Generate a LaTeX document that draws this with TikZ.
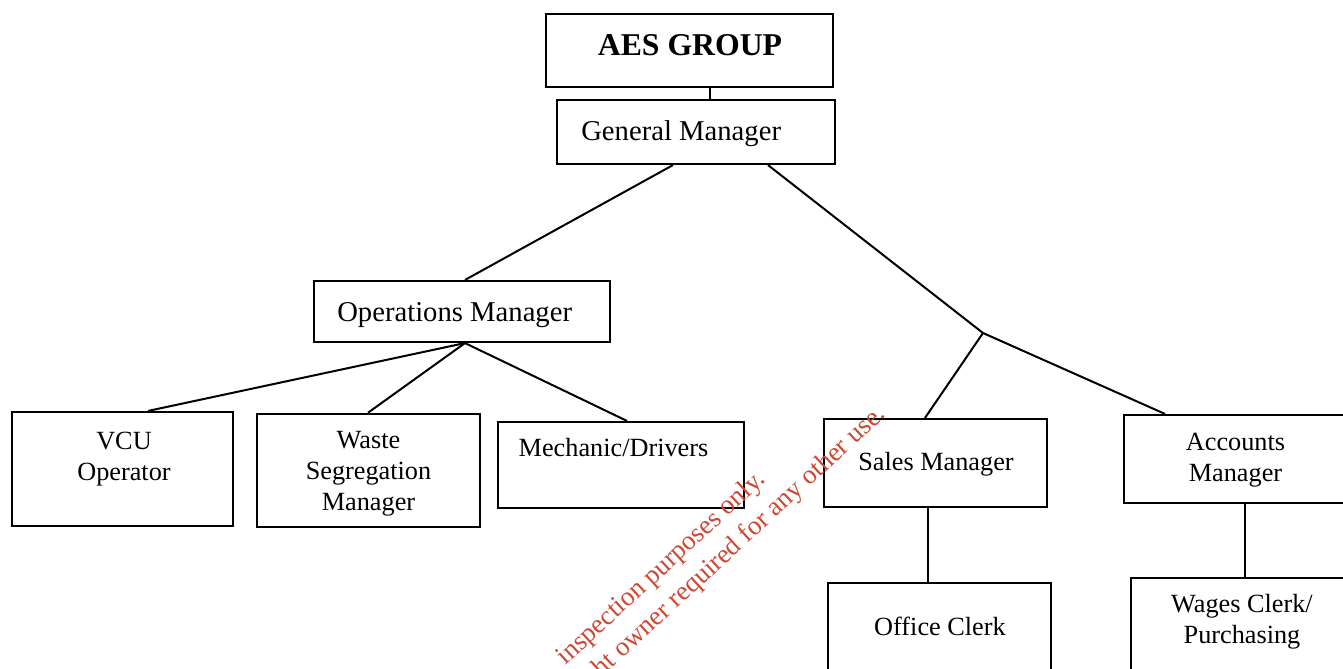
\documentclass[tikz,border=0pt]{standalone}
\usepackage{fontspec}
\setmainfont{Liberation Serif}
\usepackage{xcolor}
\definecolor{stampred}{RGB}{205,72,52}

\begin{document}
\begin{tikzpicture}[x=0.75pt,y=0.75pt,yscale=-1,xscale=1,
    box/.style={draw, rectangle, line width=1.6pt, inner sep=0pt},
    link/.style={line width=1.5pt},
    txt/.style={inner sep=0.75pt, align=center, font=\fontsize{19.7}{23.2}\selectfont},
    toptxt/.style={inner sep=0.75pt, font=\fontsize{21.5}{25}\selectfont},
    stamp/.style={inner sep=0pt, rotate=42.5, text=stampred, font=\fontsize{20.2}{24}\selectfont}]
    %set diagram frame: 1343 x 668
    \clip (0,0) rectangle (1343,668);

    %Shape: Rectangle
    \node[box, minimum width=215.25pt, minimum height=54.75pt] (aes) at (689.5,50.5) {};
    %Shape: Rectangle
    \node[box, minimum width=208.5pt, minimum height=48pt] (gm) at (696,132) {};
    %Shape: Rectangle
    \node[box, minimum width=222pt, minimum height=45.75pt] (ops) at (462,311.5) {};
    %Shape: Rectangle
    \node[box, minimum width=165.75pt, minimum height=85.5pt] (vcu) at (122.5,469) {};
    %Shape: Rectangle
    \node[box, minimum width=167.25pt, minimum height=84.75pt] (waste) at (368.5,470.3) {};
    %Shape: Rectangle
    \node[box, minimum width=184.5pt, minimum height=64.5pt] (mech) at (621,465) {};
    %Shape: Rectangle
    \node[box, minimum width=167.25pt, minimum height=66pt] (sales) at (935.5,463) {};
    %Shape: Rectangle
    \node[box, minimum width=169.5pt, minimum height=66pt] (acc) at (1237,459) {};
    %Shape: Rectangle
    \node[box, minimum width=167.25pt, minimum height=87.75pt] (office) at (939.5,641.5) {};
    %Shape: Rectangle
    \node[box, minimum width=164.25pt, minimum height=93pt] (wages) at (1240.5,640) {};

    \coordinate (fork) at (983,333);

    %Straight Lines
    \draw[link] (aes.south -| 710,0) -- (gm.north -| 710,0);
    %Straight Lines
    \draw[link] (gm.south -| 673,0) -- (ops.north -| 465,0);
    %Straight Lines
    \draw[link] (gm.south -| 768,0) -- (fork);
    %Straight Lines
    \draw[link] (fork) -- (sales.north -| 925,0);
    %Straight Lines
    \draw[link] (fork) -- (acc.north -| 1165,0);
    %Straight Lines
    \draw[link] (ops.south -| 465,0) -- (vcu.north -| 148,0);
    %Straight Lines
    \draw[link] (ops.south -| 465,0) -- (waste.north -| 368,0);
    %Straight Lines
    \draw[link] (ops.south -| 465,0) -- (mech.north -| 627,0);
    %Straight Lines
    \draw[link] (sales.south -| 928,0) -- (office.north -| 928,0);
    %Straight Lines
    \draw[link] (acc.south -| 1245,0) -- (wages.north -| 1245,0);

    % Text Node
    \node[toptxt, anchor=base, font=\fontsize{23.8}{28}\selectfont\bfseries] (aes-t) at (690,55) {AES GROUP};
    % Text Node
    \node[toptxt, anchor=base west] (gm-t) at (580,140) {General Manager};
    % Text Node
    \node[toptxt, anchor=base west] (ops-t) at (336,321) {Operations Manager};
    % Text Node
    \node[txt] (vcu-t) at (124,459) {VCU\\Operator};
    % Text Node
    \node[txt] (waste-t) at (368.5,474) {Waste\\Segregation\\Manager};
    % Text Node
    \node[txt, anchor=base] (mech-t) at (613.5,456) {Mechanic/Drivers};
    % Text Node
    \node[txt, anchor=base] (sales-t) at (936,470) {Sales Manager};
    % Text Node
    \node[txt] (acc-t) at (1235.5,460) {Accounts\\Manager};
    % Text Node
    \node[txt, anchor=base] (office-t) at (940,635) {Office Clerk};
    % Text Node
    \node[txt] (wages-t) at (1242,622) {Wages Clerk/\\Purchasing};

    % Stamp Text
    \node[stamp, anchor=base east] (stamp-a) at (767,481) {inspection purposes only.};
    \node[stamp, anchor=base east] (stamp-b) at (887,416) {ht owner required for any other use.};

\end{tikzpicture}
\end{document}
